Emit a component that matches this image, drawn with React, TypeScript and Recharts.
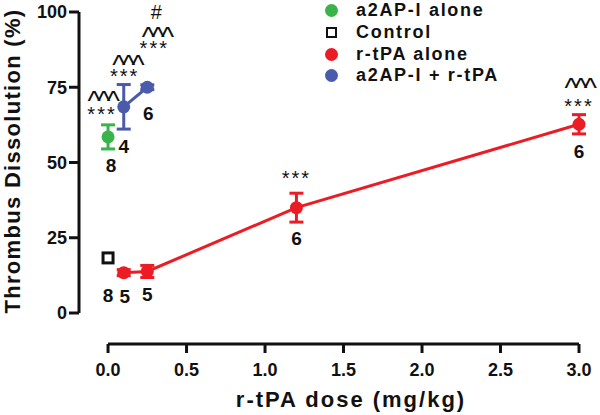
import React from 'react';
import {
  ComposedChart,
  Scatter,
  XAxis,
  YAxis,
  ErrorBar,
  ReferenceLine,
  Legend,
  Label,
} from 'recharts';

// ---- data ----
const seriesNames = ['a2AP-I alone', 'Control', 'r-tPA alone', 'a2AP-I + r-tPA'];

const greenDose = [0];
const greenMean = [58.5];
const greenErr = [4];
const greenN = ['8'];
const greenStars = ['***'];
const greenCarets = ['^^^'];
const greenHash = [''];

const controlDose = [0];
const controlMean = [18.3];
const controlErr = [1.2];
const controlN = ['8'];

const redDose = [0.1, 0.25, 1.2, 3.0];
const redMean = [13.4, 13.8, 35, 62.7];
const redErr = [1, 2, 4.8, 3.2];
const redN = ['5', '5', '6', '6'];
const redStars = ['', '', '***', '***'];
const redCarets = ['', '', '', '^^^'];
const redHash = ['', '', '', ''];

const blueDose = [0.1, 0.25];
const blueMean = [68.5, 75];
const blueErr = [7.4, 0.8];
const blueN = ['4', '6'];
const blueStars = ['***', '***'];
const blueCarets = ['^^^', '^^^'];
const blueHash = ['', '#'];

const xTicks = [0, 0.5, 1.0, 1.5, 2.0, 2.5, 3.0];
const yTicks = [0, 25, 50, 75, 100];

// ---- styles ----
const FONT = 'Liberation Sans, Arial, Helvetica, sans-serif';
const GREEN = '#38b44a';
const RED = '#ec1c24';
const BLUE = '#4a5bab';
const BLACK = '#111';

type Off = { n: [number, number]; stars: [number, number]; carets: [number, number]; hash: [number, number] };
const greenOff: Off[] = [{ n: [3, 28], stars: [-6, -27], carets: [-6, -41], hash: [0, 0] }];
const controlOff: Off[] = [{ n: [0, 37], stars: [0, 0], carets: [0, 0], hash: [0, 0] }];
const redOff: Off[] = [
  { n: [1, 23], stars: [0, 0], carets: [0, 0], hash: [0, 0] },
  { n: [0, 23], stars: [0, 0], carets: [0, 0], hash: [0, 0] },
  { n: [0, 30], stars: [0, -34], carets: [0, 0], hash: [0, 0] },
  { n: [0, 27], stars: [0, -22], carets: [0, -41], hash: [0, 0] },
];
const blueOff: Off[] = [
  { n: [0, 39], stars: [1, -35], carets: [3, -47], hash: [0, 0] },
  { n: [1, 26], stars: [7, -43], carets: [9, -55], hash: [9, -75] },
];

const build = (dose: number[], mean: number[], err: number[], n: string[], stars?: string[], carets?: string[], hash?: string[]) =>
  dose.map((d, i) => ({
    x: d,
    y: mean[i],
    err: [err[i], err[i]],
    n: n[i],
    stars: stars ? stars[i] : '',
    carets: carets ? carets[i] : '',
    hash: hash ? hash[i] : '',
    i,
  }));

const greenData = build(greenDose, greenMean, greenErr, greenN, greenStars, greenCarets, greenHash);
const controlData = build(controlDose, controlMean, controlErr, controlN);
const redData = build(redDose, redMean, redErr, redN, redStars, redCarets, redHash);
const blueData = build(blueDose, blueMean, blueErr, blueN, blueStars, blueCarets, blueHash);

const Annotations = ({ cx, cy, p, off }: any) => {
  const o: Off = off[p.i];
  const hasSig = p.stars || p.carets || p.hash;
  return (
    <g>
      {p.n ? (
        <text x={cx + o.n[0]} y={cy + o.n[1] + 7} textAnchor="middle" fontFamily={FONT} fontWeight="bold" fontSize={19} fill={BLACK}>
          {p.n}
        </text>
      ) : null}
      {hasSig ? (
        <text textAnchor="middle" fontFamily={FONT} fill={BLACK}>
          {p.hash ? (
            <tspan x={cx + o.hash[0]} y={cy + o.hash[1] + 7} fontSize={20}>
              {p.hash}
            </tspan>
          ) : null}
          {p.carets ? (
            <tspan x={cx + o.carets[0]} y={cy + o.carets[1] + 14} fontSize={28} letterSpacing={-3.5}>
              {p.carets}
            </tspan>
          ) : null}
          {p.stars ? (
            <tspan x={cx + o.stars[0]} y={cy + o.stars[1] + 11} fontSize={20} letterSpacing={2}>
              {p.stars}
            </tspan>
          ) : null}
        </text>
      ) : null}
    </g>
  );
};

const circleShape = (color: string, off: Off[]) => (props: any) => {
  const { cx, cy, payload } = props;
  if (cx == null || cy == null) return <g />;
  return (
    <g>
      <circle cx={cx} cy={cy} r={6.5} fill={color} />
      <Annotations cx={cx} cy={cy} p={payload} off={off} />
    </g>
  );
};

const squareShape = (off: Off[]) => (props: any) => {
  const { cx, cy, payload } = props;
  if (cx == null || cy == null) return <g />;
  return (
    <g>
      <rect x={cx - 5} y={cy - 5} width={10} height={10} fill="#fff" stroke={BLACK} strokeWidth={3} />
      <Annotations cx={cx} cy={cy} p={payload} off={off} />
    </g>
  );
};

const legendItems = [
  { name: seriesNames[0], color: GREEN, square: false },
  { name: seriesNames[1], color: BLACK, square: true },
  { name: seriesNames[2], color: RED, square: false },
  { name: seriesNames[3], color: BLUE, square: false },
];

const renderLegend = () => (
  <div style={{ fontFamily: FONT, paddingLeft: 14 }}>
    {legendItems.map((it) => (
      <div key={it.name} style={{ display: 'flex', alignItems: 'center', height: 21.7 }}>
        <div style={{ width: 26, display: 'flex', justifyContent: 'center' }}>
          {it.square ? (
            <div style={{ width: 7, height: 7, border: '2.5px solid #111', background: '#fff' }} />
          ) : (
            <div style={{ width: 13, height: 13, borderRadius: '50%', background: it.color }} />
          )}
        </div>
        <span style={{ marginLeft: 12, fontSize: 18, fontWeight: 'bold', letterSpacing: 1.7, color: '#111', whiteSpace: 'nowrap' }}>
          {it.name}
        </span>
      </div>
    ))}
  </div>
);

const tickStyle = { fontSize: 18, fontWeight: 'bold', fill: BLACK, fontFamily: FONT } as any;

export default function App() {
  return (
    <div style={{ position: 'absolute', left: 0, top: 0, width: 600, height: 415, background: '#fff' }}>
      <ComposedChart width={600} height={415} margin={{ top: 12, right: 21, bottom: 0, left: 0 }}>
        <XAxis
          type="number"
          dataKey="x"
          domain={[-0.185, 3]}
          ticks={xTicks}
          tickFormatter={(v: number) => v.toFixed(1)}
          height={71}
          tickSize={9}
          tickMargin={10}
          axisLine={false}
          tickLine={{ stroke: BLACK, strokeWidth: 3 }}
          tick={tickStyle}
        >
          <Label
            content={() => (
              <text x={351} y={407} textAnchor="middle" fontFamily={FONT} fontWeight="bold" fontSize={22} letterSpacing={2} fill={BLACK}>
                r-tPA dose (mg/kg)
              </text>
            )}
          />
        </XAxis>
        <YAxis
          type="number"
          dataKey="y"
          domain={[-10.3, 100]}
          ticks={yTicks}
          width={79}
          tickSize={10}
          tickMargin={2}
          axisLine={false}
          tickLine={{ stroke: BLACK, strokeWidth: 3 }}
          tick={tickStyle}
        >
          <Label
            content={() => (
              <text
                x={20}
                y={161}
                transform="rotate(-90, 20, 161)"
                textAnchor="middle"
                fontFamily={FONT}
                fontWeight="bold"
                fontSize={22}
                letterSpacing={1.3}
                fill={BLACK}
              >
                Thrombus Dissolution (%)
              </text>
            )}
          />
        </YAxis>
        <ReferenceLine
          segment={[{ x: 0, y: -10.3 }, { x: 3, y: -10.3 }]}
          stroke={BLACK}
          strokeWidth={3}
          ifOverflow="visible"
        />
        <ReferenceLine
          segment={[{ x: -0.185, y: 0 }, { x: -0.185, y: 100 }]}
          stroke={BLACK}
          strokeWidth={3}
          ifOverflow="visible"
        />
        <Legend
          layout="horizontal"
          verticalAlign="middle"
          align="center"
          content={renderLegend}
          wrapperStyle={{ position: 'absolute', left: 304, top: 0, width: 280, height: 90 }}
        />
        <Scatter name={seriesNames[0]} data={greenData} fill={GREEN} isAnimationActive={false} shape={circleShape(GREEN, greenOff)}>
          <ErrorBar dataKey="err" direction="y" width={7} stroke={GREEN} strokeWidth={3} />
        </Scatter>
        <Scatter name={seriesNames[1]} data={controlData} fill={BLACK} isAnimationActive={false} shape={squareShape(controlOff)}>
          <ErrorBar dataKey="err" direction="y" width={5} stroke={BLACK} strokeWidth={3} />
        </Scatter>
        <Scatter
          name={seriesNames[2]}
          data={redData}
          fill={RED}
          line={{ stroke: RED, strokeWidth: 3 }}
          lineType="joint"
          isAnimationActive={false}
          shape={circleShape(RED, redOff)}
        >
          <ErrorBar dataKey="err" direction="y" width={7} stroke={RED} strokeWidth={3} />
        </Scatter>
        <Scatter
          name={seriesNames[3]}
          data={blueData}
          fill={BLUE}
          line={{ stroke: BLUE, strokeWidth: 3 }}
          lineType="joint"
          isAnimationActive={false}
          shape={circleShape(BLUE, blueOff)}
        >
          <ErrorBar dataKey="err" direction="y" width={7} stroke={BLUE} strokeWidth={3} />
        </Scatter>
      </ComposedChart>
    </div>
  );
}
